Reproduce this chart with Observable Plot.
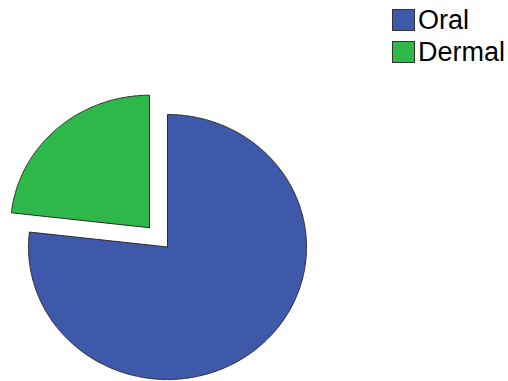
<!DOCTYPE html>
<html>
<head>
<meta charset="utf-8">
<script src="https://cdn.jsdelivr.net/npm/d3@7"></script>
<script src="https://cdn.jsdelivr.net/npm/@observablehq/plot@0.6"></script>
<style>
  html, body { margin: 0; padding: 0; background: #fff; }
  #wrap { position: relative; width: 508px; height: 381px; font-family: "Liberation Sans", Arial, sans-serif; }
  #legend { position: absolute; left: 392px; top: 4px; }
  .item { display: flex; align-items: center; height: 32px; }
  .sw { width: 23px; height: 22px; border: 1px solid #333; box-sizing: border-box; margin-right: 3px; }
  .lbl { font-size: 27px; color: #000; line-height: 27px; }
</style>
</head>
<body>
<div id="wrap"><div id="chart"></div><div id="legend"></div></div>
<script>
const categories = ["Oral", "Dermal"];
const values = [76.8, 23.2];
const colors = ["#3e58aa", "#2eb84a"];
const exploded = [false, true];

// layout
const W = 508, H = 381;
const cx = 167, cy = 246.5, rx = 139, ry = 132.5, explodeDist = 0.195;

const arcs = d3.pie().sort(null).value(d => d)(values);

function slicePoints(a, i) {
  const mid = (a.startAngle + a.endAngle) / 2;
  const off = exploded[i] ? explodeDist : 0;
  const ox = cx + rx * off * Math.sin(mid);
  const oy = cy - ry * off * Math.cos(mid);
  const pts = [{x: ox, y: oy}];
  const n = Math.max(8, Math.ceil((a.endAngle - a.startAngle) / (Math.PI / 360)));
  for (let k = 0; k <= n; k++) {
    const t = a.startAngle + (a.endAngle - a.startAngle) * k / n;
    pts.push({x: ox + rx * Math.sin(t), y: oy - ry * Math.cos(t)});
  }
  pts.push({x: ox, y: oy});
  return pts;
}

const marks = arcs.map((a, i) =>
  Plot.line(slicePoints(a, i), {x: "x", y: "y", fill: colors[i], stroke: "#2a2a2a", strokeWidth: 1, strokeLinejoin: "miter"})
);

const chart = Plot.plot({
  width: W, height: H,
  margin: 0,
  x: {domain: [0, W], axis: null},
  y: {domain: [H, 0], axis: null},
  marks
});
document.getElementById("chart").appendChild(chart);

const legend = document.getElementById("legend");
categories.forEach((c, i) => {
  const it = document.createElement("div");
  it.className = "item";
  it.innerHTML = `<div class="sw" style="background:${colors[i]}"></div><span class="lbl">${c}</span>`;
  legend.appendChild(it);
});
</script>
</body>
</html>
